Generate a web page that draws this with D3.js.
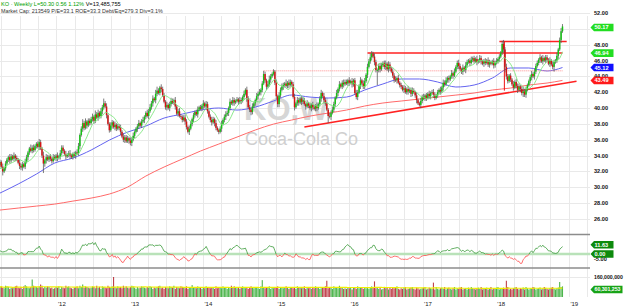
<!DOCTYPE html>
<html>
<head>
<meta charset="utf-8">
<script src="https://cdn.jsdelivr.net/npm/d3@7"></script>
<style>
body { margin: 0; background: #fff; }
svg { display: block; font-family: "Liberation Sans", Arial, sans-serif; }
</style>
</head>
<body>
<script>
// weekly closes, KO, starting week of 25 Mar 2011
var closes = [
  33.2, 32.6, 32.0, 32.4, 33.0, 33.5, 33.8, 33.4, 33.9, 33.6, 34.0, 33.7, 33.5,
  33.1, 32.7, 32.5, 32.9, 32.6, 33.2, 33.8, 34.4, 34.9, 34.6, 35.0, 34.7, 35.2,
  35.5, 35.1, 35.7, 34.9, 34.0, 33.0, 33.4, 33.8, 33.5, 33.9, 33.6, 33.3, 33.8,
  33.6, 34.0, 33.7, 33.9, 34.3, 35.0, 34.6, 34.2, 33.9, 34.1, 34.3, 34.0, 33.8,
  34.2, 34.0, 34.4, 34.3, 35.2, 36.6, 37.4, 38.1, 37.5, 38.3, 37.8, 38.4, 38.1,
  38.6, 38.9, 38.4, 39.2, 38.8, 39.4, 39.0, 39.6, 40.1, 40.6, 40.2, 39.1, 38.0,
  37.2, 37.8, 38.2, 37.6, 37.9, 37.4, 37.7, 37.5, 37.0, 36.4, 36.0, 36.3, 35.8,
  36.2, 35.9, 35.6, 36.0, 36.5, 37.0, 37.4, 37.7, 38.1, 37.8, 38.3, 38.5, 38.9,
  39.4, 39.0, 39.6, 40.1, 40.6, 41.2, 41.0, 41.8, 42.2, 41.9, 42.6, 42.4, 41.6,
  40.8, 40.1, 40.4, 40.0, 40.5, 40.9, 40.7, 41.0, 40.2, 39.3, 39.6, 39.0, 38.9,
  38.5, 38.8, 38.3, 37.6, 37.0, 37.4, 38.0, 38.6, 39.1, 39.5, 39.2, 39.8, 40.1,
  39.9, 40.3, 40.6, 40.2, 40.5, 39.6, 38.9, 38.5, 38.2, 38.6, 38.1, 37.5, 37.2,
  37.0, 37.4, 38.0, 38.5, 38.9, 39.2, 39.4, 40.0, 40.8, 40.6, 41.0, 40.7, 40.9,
  41.1, 40.8, 41.0, 40.9, 41.4, 41.8, 42.3, 41.2, 40.1, 39.8, 39.5, 40.2, 40.6,
  41.0, 41.5, 41.8, 42.0, 42.3, 43.1, 44.3, 43.5, 42.7, 43.0, 43.6, 44.0, 44.3,
  44.6, 43.2, 41.5, 40.5, 41.6, 42.3, 42.7, 42.9, 43.1, 42.8, 43.2, 42.9, 43.3,
  43.0, 41.4, 40.1, 40.6, 41.0, 40.7, 41.2, 40.8, 41.0, 40.5, 40.2, 40.6, 40.3,
  40.0, 40.4, 40.1, 39.9, 40.3, 40.0, 40.5, 41.2, 41.9, 41.5, 41.0, 40.6, 39.8,
  39.0, 38.9, 39.4, 39.8, 40.5, 41.3, 41.9, 42.4, 43.0, 42.7, 43.2, 43.0, 43.3,
  43.1, 43.5, 43.2, 43.4, 43.0, 43.5, 41.9, 41.4, 42.0, 42.8, 43.5, 43.1, 42.7,
  43.4, 44.2, 45.2, 45.9, 46.4, 46.9, 46.5, 45.8, 44.8, 44.8, 45.3, 44.9, 45.4,
  45.7, 45.2, 45.6, 44.9, 45.5, 45.0, 44.6, 44.1, 43.6, 43.5, 43.8, 43.2, 42.9,
  42.7, 42.3, 42.5, 42.0, 42.4, 42.1, 42.3, 41.8, 42.2, 42.0, 41.6, 41.0, 40.6,
  40.4, 40.9, 41.4, 41.2, 41.6, 41.3, 41.8, 41.5, 41.9, 42.0, 41.7, 41.3, 41.6,
  42.0, 42.3, 42.1, 42.6, 43.2, 43.0, 43.5, 43.8, 43.6, 44.0, 44.4, 44.1, 44.6,
  45.2, 45.7, 45.3, 44.9, 44.6, 45.1, 44.8, 45.4, 45.8, 46.0, 45.7, 46.1, 46.3,
  45.9, 46.2, 45.8, 46.0, 46.3, 45.9, 45.6, 45.9, 45.7, 46.0, 45.5, 45.8, 45.6,
  45.9, 45.4, 45.7, 45.9, 46.2, 46.5, 47.0, 48.1, 47.4, 45.2, 44.0, 43.4, 44.1,
  43.6, 43.0, 42.6, 43.3, 42.8, 42.3, 42.7, 42.4, 41.9, 42.1, 41.7, 42.3, 42.9,
  43.4, 43.9, 44.3, 44.0, 44.6, 45.3, 45.7, 46.1, 46.4, 45.9, 46.3, 46.0, 46.4,
  46.1, 45.6, 46.0, 45.5, 45.2, 45.8, 46.0, 46.6, 47.4, 48.6, 49.7, 50.3
];
// 13 weeks before the window (for the indicators)
var leadCloses = [31.9, 31.6, 31.2, 31.5, 31.9, 32.2, 31.8, 31.6, 32.0, 32.4, 32.7, 33.0, 32.8];

// wick length above / below the body, tenths of a dollar, base 36
var upWicks = [
  "3242322432423", "2433243225342", "2343252432324", "3242433242342", "2324423534233",
  "3425342436342", "2432423342433", "3243422342342", "2434342553243", "3242343242342",
  "2343244232342", "3242432343242", "2342343242432", "3243242433242", "2434234324532",
  "3242434325243", "2342432343242", "3243242342432", "2434324242343", "3242423432424",
  "4243532432343", "2342432434242", "3243242343242", "2434232423432", "3242434232424",
  "2343242432342", "3242432342432", "2434232453432", "3242434236342", "2342433242423",
  "324243242343"
].join("");
var downWicks = [
  "3252323432342", "2434232432332", "32423c4423332", "2342433242342", "3242342432423",
  "2343242343242", "3242432342342", "2434232432324", "3242342432342", "2342432342423",
  "3243242343242", "2342432342432", "3242342432342", "2434232423432", "3242432342342",
  "2344432432342", "3242342432423", "2432342342432", "9242342432342", "2342432342423",
  "324234243j342", "2342432342423", "3242342432342", "2432342342432", "3242432342342",
  "2342342432423", "3242342432342", "2432342347432", "3242342435342", "2342432342423",
  "324236234242"
].join("");
// weekly volume in units of 5,000,000, base 36
var volumeCodes = [
  "ghfeihgdfeghi", "fegdhjhfegsih", "gfhkiegfhgefd", "egfhdgfeighfe", "dfgheigkfhgfe",
  "fhgeifgdhgfei", "gfhwgehfgeifh", "fegihfdgefhgf", "egfhgdfeghief", "dgfehgfidgfeh",
  "gfehdgfjgfehg", "fdgehgfegfdhe", "gfehgfdgeifhg", "efdghfegdfhge", "fgedhrfegfhdg",
  "egfhdgfeghfdg", "fegdhgfeghdfe", "gdfehgfdegfhq", "efgdhgfeigfde", "dfegcfgdhefgd",
  "fegdfhgpefdgc", "dfegcfdgefhdc", "edfgcdefgdcfe", "cdefgcdfedncg", "dcefdgcefdceg",
  "cedfgcdecfdge", "dcefdgcedfceg", "cedfgcdefdqgc", "dcefgdcedfcge", "cedgfcdefcdge",
  "dcefgdcefogh"
].join("");

// moving averages, at maWeeks
var blueMA = [29.27, 30.41, 31.67, 33.06, 33.69, 34.70, 35.96, 36.97, 37.73, 38.74, 39.24,
  39.75, 40.01, 39.75, 40.13, 40.89, 41.65, 41.39, 41.27, 41.39, 42.28, 43.04, 43.67,
  43.67, 43.29, 42.66, 42.91, 43.79, 45.06, 45.06, 44.68, 45.12];
var redMA = [27.13, 27.38, 27.63, 27.88, 28.26, 28.64, 29.15, 30.03, 31.42, 32.56, 33.57,
  34.58, 35.46, 36.34, 37.23, 37.98, 38.49, 38.99, 39.37, 39.75, 40.26, 40.64, 40.89,
  41.14, 41.39, 41.64, 41.90, 42.28, 42.53, 42.91, 43.16, 43.49];
var maWeeks = [0, 13, 26, 39, 52, 65, 78, 91, 104, 117, 130, 143, 156, 169, 182, 195, 208,
  221, 234, 247, 260, 273, 286, 299, 312, 325, 338, 351, 364, 377, 390, 401];

// annotation lines [week, price]
var trendLine = [[217, 37.6], [411, 43.4]];
var topLine = [[262, 46.94], [401, 46.94]];
var highLine = [[356, 48.4], [404, 48.4]];
var dropLine = [[359.5, 48.4], [359.5, 42.2]];
var dottedLine = [[188, 44.7], [401, 44.7]];

var priceTicks = [26, 28, 30, 32, 34, 36, 38, 40, 42, 44, 46, 48, 52];
var priceBadges = [
  {value: 50.17, label: "50.17", fill: "#22dd22", text: "#fff"},
  {value: 46.94, label: "46.94", fill: "#22dd22", text: "#fff"},
  {value: 45.12, label: "45.12", fill: "#1010ff", text: "#fff"},
  {value: 43.49, label: "43.49", fill: "#ff1a1a", text: "#fff"}
];
var oscBadges = [{value: 11.63, label: "11.63"}, {value: 0, label: "0.00"}];
var volLast = 60301253;

var W = 625, H = 308, plotRight = 590;
var start = new Date(2011, 2, 25);
var rocPeriod = 13;

var x = d3.scaleTime()
    .domain([new Date(2011, 0, 1), new Date(2019, 0, 1)])
    .range([56.5 - 73.2, 56.5 + 7 * 73.2]);
var y = d3.scaleLinear().domain([26, 52]).range([219, 13]);
var yOsc = d3.scaleLinear().domain([-5, 0]).range([258, 254]);
var yVol = d3.scaleLinear().domain([0, 160e6]).range([297, 277]);

function weekDate(w) { return d3.timeDay.offset(start, Math.round(7 * w)); }

var all = leadCloses.concat(closes), lead = leadCloses.length;
var candles = closes.map(function(c, i) {
  var o = all[i + lead - 1];
  return {
    date: weekDate(i), open: o, close: c,
    high: Math.max(o, c) + parseInt(upWicks[i], 36) / 10,
    low: Math.min(o, c) - parseInt(downWicks[i], 36) / 10,
    volume: parseInt(volumeCodes[i], 36) * 5e6,
    sma10: d3.mean(all.slice(i + lead - 9, i + lead + 1)),
    roc: (all[i + lead] / all[i + lead - rocPeriod] - 1) * 100
  };
});
candles.forEach(function(d, i) {
  d.volMA = d3.mean(candles.slice(Math.max(0, i - 49), i + 1), function(v) { return v.volume; });
});

var svg = d3.select("body").append("svg")
    .attr("width", W)
    .attr("height", H);

svg.append("rect").attr("width", W).attr("height", H).attr("fill", "#fff");

var defs = svg.append("defs");
defs.append("clipPath").attr("id", "clipPrice")
  .append("rect").attr("x", 0).attr("y", 0).attr("width", plotRight).attr("height", 233);
defs.append("clipPath").attr("id", "clipUp")
  .append("rect").attr("x", 0).attr("y", 235).attr("width", plotRight).attr("height", yOsc(0) - 235);
defs.append("clipPath").attr("id", "clipDown")
  .append("rect").attr("x", 0).attr("y", yOsc(0)).attr("width", plotRight).attr("height", 268 - yOsc(0));

// grid
var quarters = d3.timeMonth.every(3).range(new Date(2011, 0, 1), new Date(2019, 3, 2));
svg.append("g").selectAll("line")
    .data(quarters)
  .enter().append("line")
    .attr("x1", function(d) { return Math.round(x(d)) + 0.5; })
    .attr("x2", function(d) { return Math.round(x(d)) + 0.5; })
    .attr("y1", 16).attr("y2", 297)
    .attr("stroke", "#e9e9e9");

svg.append("g").selectAll("line")
    .data(priceTicks.concat([50]))
  .enter().append("line")
    .attr("x1", 0).attr("x2", plotRight)
    .attr("y1", function(d) { return Math.round(y(d)) + 0.5; })
    .attr("y2", function(d) { return Math.round(y(d)) + 0.5; })
    .attr("stroke", "#e9e9e9");

svg.append("line").attr("x1", 0).attr("x2", plotRight)
    .attr("y1", yVol(160e6) + 0.5).attr("y2", yVol(160e6) + 0.5).attr("stroke", "#e9e9e9");

// watermark
svg.append("text").attr("x", 244).attr("y", 120)
    .attr("font-size", 31).attr("font-weight", "bold").attr("fill", "#d6d6d6")
    .text("KO,W");
svg.append("text").attr("x", 245).attr("y", 145)
    .attr("font-size", 18).attr("fill", "#cfcfcf")
    .text("Coca-Cola Co");

// header
var head = svg.append("text").attr("x", 1).attr("y", 5.5).attr("font-size", 5.6);
head.append("tspan").attr("fill", "#00a000").text("KO \u00b7 Weekly L=50.30 0.56 1.12% ");
head.append("tspan").attr("fill", "#000").text("V=13,485,755");
svg.append("text").attr("x", 1).attr("y", 12.5).attr("font-size", 5.4).attr("fill", "#333")
    .text("Market Cap: 213549  P/E=33.1  ROE=33.3  Debt/Eq=279.3  Div=3.1%");

var price = svg.append("g").attr("clip-path", "url(#clipPrice)");

var line = d3.line()
    .x(function(d) { return x(weekDate(d[0])); })
    .y(function(d) { return y(d[1]); });

// moving averages
price.append("path")
    .datum(maWeeks.map(function(w, i) { return [w, redMA[i]]; }))
    .attr("fill", "none").attr("stroke", "#ff6a6a").attr("stroke-width", 1)
    .attr("d", line.curve(d3.curveMonotoneX));
price.append("path")
    .datum(maWeeks.map(function(w, i) { return [w, blueMA[i]]; }))
    .attr("fill", "none").attr("stroke", "#6464f0").attr("stroke-width", 1)
    .attr("d", line.curve(d3.curveMonotoneX));
line.curve(d3.curveLinear);

// annotations
price.append("path").datum(dottedLine)
    .attr("fill", "none").attr("stroke", "#ff8c8c").attr("stroke-width", 1)
    .attr("stroke-dasharray", "1,1").attr("d", line);
[trendLine, topLine, highLine].forEach(function(l) {
  price.append("path").datum(l)
      .attr("fill", "none").attr("stroke", "#f22").attr("stroke-width", 1.5)
      .attr("d", line);
});
price.append("path").datum(dropLine)
    .attr("fill", "none").attr("stroke", "#e11").attr("stroke-width", 1)
    .attr("d", line);

// candles
var cg = price.append("g").selectAll("g")
    .data(candles)
  .enter().append("g");
cg.append("line")
    .attr("x1", function(d) { return x(d.date); })
    .attr("x2", function(d) { return x(d.date); })
    .attr("y1", function(d) { return y(d.high); })
    .attr("y2", function(d) { return y(d.low); })
    .attr("stroke", "#5a5a5a").attr("stroke-width", 0.8);
cg.append("rect")
    .attr("x", function(d) { return x(d.date) - 0.75; })
    .attr("width", 1.5)
    .attr("y", function(d) { return y(Math.max(d.open, d.close)); })
    .attr("height", function(d) { return Math.max(0.8, Math.abs(y(d.open) - y(d.close))); })
    .attr("fill", function(d) { return d.close >= d.open ? "#14c414" : "#d41414"; });

// green 10-week average
price.append("path").datum(candles)
    .attr("fill", "none").attr("stroke", "#7ee67e").attr("stroke-width", 0.9)
    .attr("d", d3.line()
      .x(function(d) { return x(d.date); })
      .y(function(d) { return y(d.sma10); }));

// panel separators
[234.5, 268].forEach(function(v) {
  svg.append("line").attr("x1", 0).attr("x2", plotRight).attr("y1", v).attr("y2", v)
      .attr("stroke", "#8c8c8c").attr("stroke-width", 1.5);
});

// oscillator
svg.append("line").attr("x1", 0).attr("x2", plotRight)
    .attr("y1", yOsc(0)).attr("y2", yOsc(0))
    .attr("stroke", "#b9e2b9").attr("stroke-width", 2.5);
var oscLine = d3.line()
    .x(function(d) { return x(d.date); })
    .y(function(d) { return yOsc(d.roc); });
svg.append("path").datum(candles).attr("clip-path", "url(#clipUp)")
    .attr("fill", "none").attr("stroke", "#3a9a3a").attr("stroke-width", 0.8).attr("d", oscLine);
svg.append("path").datum(candles).attr("clip-path", "url(#clipDown)")
    .attr("fill", "none").attr("stroke", "#ff4a4a").attr("stroke-width", 0.8).attr("d", oscLine);

// volume
svg.append("g").selectAll("rect")
    .data(candles)
  .enter().append("rect")
    .attr("x", function(d) { return x(d.date) - 0.55; })
    .attr("width", 1.1)
    .attr("y", function(d) { return yVol(d.volume); })
    .attr("height", function(d) { return yVol(0) - yVol(d.volume); })
    .attr("fill", function(d) { return d.close >= d.open ? "#2ea82e" : "#b31e2a"; })
    .attr("opacity", 0.85);
svg.append("path").datum(candles)
    .attr("fill", "none").attr("stroke", "#f0f000").attr("stroke-width", 1.2)
    .attr("d", d3.line()
      .x(function(d) { return x(d.date); })
      .y(function(d) { return yVol(d.volMA); }));

// x axis labels
svg.append("g").selectAll("text")
    .data(d3.timeYear.range(new Date(2012, 0, 1), new Date(2019, 0, 2)))
  .enter().append("text")
    .attr("x", function(d) { return x(d) + 1.5; })
    .attr("y", 306)
    .attr("font-size", 6).attr("fill", "#222")
    .text(function(d) { return "'" + d3.timeFormat("%y")(d); });

// right labels
var axisX = 594, fs = 5.6;
svg.append("g").selectAll("text")
    .data(priceTicks)
  .enter().append("text")
    .attr("x", axisX).attr("y", function(d) { return y(d) + 2; })
    .attr("font-size", fs).attr("font-weight", "bold").attr("fill", "#111")
    .text(function(d) { return d3.format(".2f")(d); });
svg.append("text").attr("x", axisX).attr("y", yOsc(-5) + 2.8)
    .attr("font-size", fs).attr("font-weight", "bold").attr("fill", "#111").text("-5.00");
svg.append("text").attr("x", axisX).attr("y", yVol(160e6) + 2)
    .attr("font-size", 5.2).attr("font-weight", "bold").attr("fill", "#111").text("160,000,000");

function badge(cy, label, fill, color, w, size) {
  var x0 = 590.5, h = 3.8;
  svg.append("path")
      .attr("d", "M" + x0 + "," + cy + "L" + (x0 + 3.5) + "," + (cy - h) + "H" + (x0 + w) +
        "V" + (cy + h) + "H" + (x0 + 3.5) + "Z")
      .attr("fill", fill);
  svg.append("text").attr("x", x0 + 4).attr("y", cy + 2)
      .attr("font-size", size || fs).attr("font-weight", "bold").attr("fill", color).text(label);
}
priceBadges.forEach(function(b) { badge(y(b.value), b.label, b.fill, b.text, 23); });
oscBadges.forEach(function(b) { badge(yOsc(b.value), b.label, "#0d8a0d", "#fff", 23); });
badge(yVol(volLast), d3.format(",")(volLast), "#17a317", "#fff", 32, 5.2);
</script>
</body>
</html>
